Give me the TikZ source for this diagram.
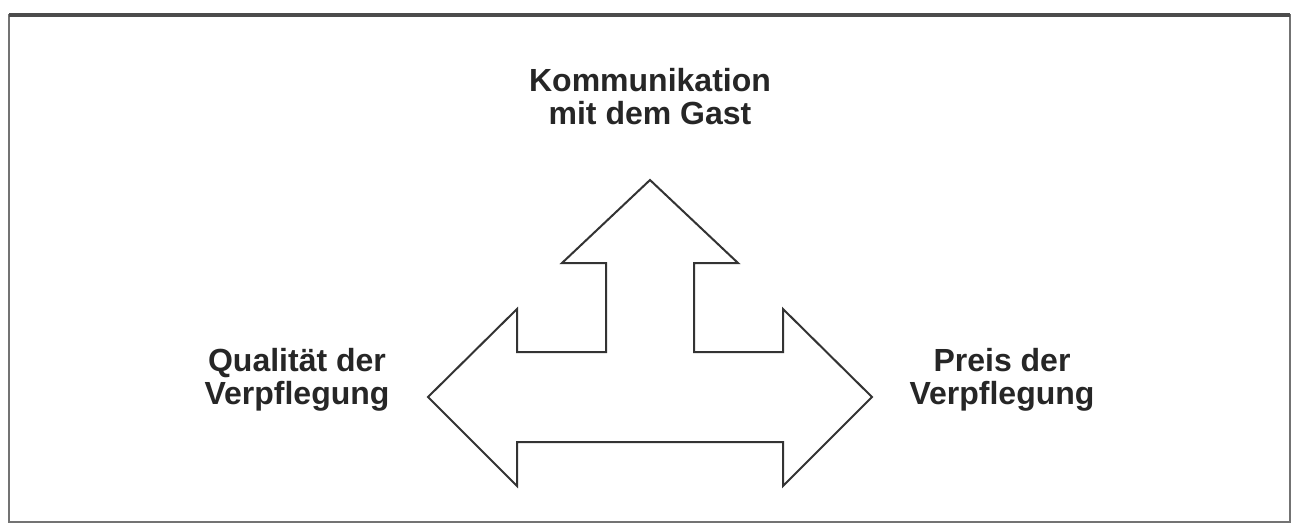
\documentclass[tikz,border=0pt]{standalone}
\usepackage{fontspec}
\setmainfont{Liberation Sans}
\begin{document}
\begin{tikzpicture}[x=1pt,y=-1pt,
  labeltext/.style={font=\bfseries\fontsize{32}{33}\selectfont, text=black!85, align=center, inner sep=0pt, anchor=north},
  arrowshape/.style={draw=black!80, line width=2pt, line join=miter, fill=white},
  frame/.style={draw=black!55, line width=2.5pt},
  frametop/.style={draw=black!70, line width=3.5pt}]
\useasboundingbox (0,0) rectangle (1293,525);
\fill[white] (0,0) rectangle (1293,525);
\draw[frame] (9,15) rectangle (1290,522);
\coordinate (tl) at (9,15);
\coordinate (tr) at (1290,15);
\draw[frametop] (tl) -- (tr);
\draw[arrowshape] (650,180) -- (738,263) -- (694,263) -- (694,352) -- (783,352) -- (783,309)
  -- (872,397) -- (783,486) -- (783,442) -- (517,442) -- (517,486) -- (428,397)
  -- (517,309) -- (517,352) -- (606,352) -- (606,263) -- (562,263) -- cycle;
\node[labeltext] (top) at (650,68) {Kommunikation\\mit dem Gast};
\node[labeltext] (left) at (297,348) {Qualität der\\Verpflegung};
\node[labeltext] (right) at (1002,348) {Preis der\\Verpflegung};
\end{tikzpicture}
\end{document}
